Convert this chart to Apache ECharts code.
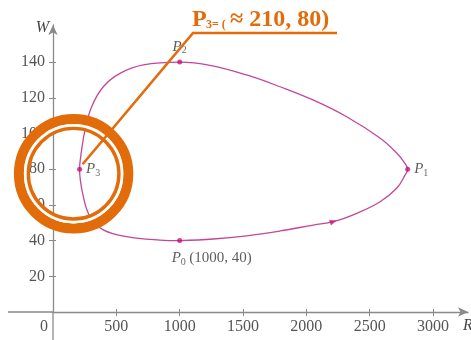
<!DOCTYPE html>
<html>
<head>
<meta charset="utf-8">
<script src="https://cdn.jsdelivr.net/npm/echarts@6/dist/echarts.min.js"></script>
<style>
html, body { margin: 0; padding: 0; background: #fff; }
#chart { width: 471px; height: 340px; }
</style>
</head>
<body>
<div id="chart"></div>
<script>
// 轨迹 (R, W)，从 P0 出发按时间顺序走一圈
var curveR = [1000, 1265, 1529, 1792, 2055, 2213, 2398, 2582, 2713, 2779, 2800, 2771, 2713, 2581, 2318, 2052, 1792, 1529, 1239, 1000, 713, 529, 397, 305, 253, 226, 210, 234, 292, 397, 581, 845, 1000];
var curveW = [40, 40.9, 42.7, 45.4, 48.7, 50.6, 55.3, 61.8, 69.3, 76.7, 80, 84, 89.1, 97.5, 109.4, 118.8, 126.2, 132.8, 138.2, 140, 138.4, 133.7, 126.2, 115, 102, 90.8, 80, 66.5, 53.4, 46, 42.2, 40.3, 40];

// 标注点
var pointNames = ['0', '1', '2', '3'];
var pointR = [1000, 2800, 1000, 210];
var pointW = [40, 80, 140, 80];

// 方向箭头
var arrowR = 2213;
var arrowW = 50.6;

// 刻度
var rTicks = [500, 1000, 1500, 2000, 2500, 3000];
var wTicks = [20, 40, 60, 80, 100, 120, 140];

var serif = 'Liberation Serif';
var orange = '#e36c0a';
var axisColor = '#8a8a8a';

var chart = echarts.init(document.getElementById('chart'));

var rich = {
  p: { fontFamily: serif, fontStyle: 'italic', fontSize: 15, color: '#333' },
  s: { fontFamily: serif, fontSize: 10, color: '#444', padding: [8, 0, 0, 0] },
  n: { fontFamily: serif, fontSize: 15, color: '#333' }
};

var labelCfg = [
  { position: 'bottom', align: 'left', distance: 6, offset: [-8, 0], formatter: '{p|P}{s|0} {n|(1000, 40)}' },
  { position: 'right', distance: 4, formatter: '{p|P}{s|1}' },
  { position: 'top', distance: 4, formatter: '{p|P}{s|2}' },
  { position: 'right', distance: 4, formatter: '{p|P}{s|3}' }
];

var pointData = pointR.map(function (r, i) {
  return {
    name: 'P' + pointNames[i],
    value: [r, pointW[i]],
    label: Object.assign({ show: true, rich: rich }, labelCfg[i])
  };
});

var curveData = curveR.map(function (r, i) { return [r, curveW[i]]; });

function plain(v) { return '' + v; }

// 内侧短刻度（让刻度线穿过坐标轴）
function innerAxis(max, ticks, pos) {
  return {
    type: 'value', min: 0, max: max, position: pos,
    splitLine: { show: false },
    axisLine: { show: false },
    axisLabel: { show: false },
    axisTick: { customValues: ticks, inside: true, length: 3, lineStyle: { color: axisColor } }
  };
}

chart.setOption({
  animation: false,
  grid: { left: 53, top: 25, right: 3, bottom: 28, containLabel: false },
  xAxis: [{
    type: 'value',
    min: 0,
    max: 3276,
    position: 'bottom',
    splitLine: { show: false },
    axisLine: { lineStyle: { color: axisColor, width: 1.3 }, symbol: ['none', 'arrow'], symbolSize: [7, 10] },
    axisTick: { customValues: rTicks, length: 4, lineStyle: { color: axisColor } },
    axisLabel: { customValues: rTicks, formatter: plain, margin: 7, fontFamily: serif, fontSize: 16, color: '#555' }
  }, innerAxis(3276, rTicks, 'bottom')],
  yAxis: [{
    type: 'value',
    min: 0,
    max: 160.8,
    position: 'left',
    splitLine: { show: false },
    axisLine: { lineStyle: { color: axisColor, width: 1.3 }, symbol: ['none', 'arrow'], symbolSize: [7, 10] },
    axisTick: { customValues: wTicks, length: 4, lineStyle: { color: axisColor } },
    axisLabel: { customValues: wTicks, formatter: plain, margin: 8, fontFamily: serif, fontSize: 16, color: '#555' }
  }, innerAxis(160.8, wTicks, 'left')],
  series: [
    {
      type: 'line',
      data: curveData,
      smooth: 0.4,
      showSymbol: false,
      lineStyle: { color: '#c4469a', width: 1.3 },
      z: 2
    },
    {
      type: 'scatter',
      data: pointData,
      symbolSize: 5,
      itemStyle: { color: '#c8127a' },
      z: 3
    },
    {
      type: 'scatter',
      data: [[arrowR, arrowW]],
      symbol: 'triangle',
      symbolSize: [6, 7],
      symbolRotate: -72,
      itemStyle: { color: '#c8127a' },
      z: 3
    }
  ]
});

// 原点与坐标轴延长段
var o = chart.convertToPixel({ gridIndex: 0 }, [0, 0]);
// 橙色标注：圈出 P3 并引线到说明文字
var p3 = chart.convertToPixel({ gridIndex: 0 }, [pointR[3], pointW[3]]);
var cx = p3[0] - 6, cy = p3[1] + 4.5;

chart.setOption({
  graphic: [
    { type: 'line', shape: { x1: 8, y1: o[1], x2: o[0], y2: o[1] }, style: { stroke: axisColor, lineWidth: 1.3 } },
    { type: 'line', shape: { x1: o[0], y1: o[1], x2: o[0], y2: 340 }, style: { stroke: axisColor, lineWidth: 1.3 } },
    { type: 'text', x: o[0] - 4, y: 28, style: { text: 'W', font: 'italic 16px ' + serif, fill: '#444', align: 'right', verticalAlign: 'middle' } },
    { type: 'text', x: 463, y: o[1] + 14, style: { text: 'R', font: 'italic 16px ' + serif, fill: '#444', align: 'left', verticalAlign: 'middle' } },
    { type: 'text', x: o[0] - 9, y: o[1] + 15, style: { text: '0', font: '16px ' + serif, fill: '#555', align: 'center', verticalAlign: 'middle' } },
    { type: 'circle', shape: { cx: cx, cy: cy, r: 54.7 }, style: { fill: 'none', stroke: orange, lineWidth: 10 }, z: 10 },
    { type: 'circle', shape: { cx: cx, cy: cy, r: 48.2 }, style: { fill: 'none', stroke: '#fff', lineWidth: 3 }, z: 10 },
    { type: 'circle', shape: { cx: cx, cy: cy, r: 45.3 }, style: { fill: 'none', stroke: orange, lineWidth: 3.4 }, z: 10 },
    { type: 'polyline', shape: { points: [[p3[0] + 3, p3[1] - 5], [193, 33], [337, 33]] }, style: { fill: 'none', stroke: orange, lineWidth: 2.6 }, z: 10 },
    { type: 'text', x: 192, y: 19.5, style: { text: 'P', font: 'bold 24px ' + serif, fill: orange, align: 'left', verticalAlign: 'middle' }, z: 10 },
    { type: 'text', x: 206, y: 25, style: { text: '3= (', font: 'bold 12px ' + serif, fill: orange, align: 'left', verticalAlign: 'middle' }, z: 10 },
    { type: 'text', x: 230, y: 19.5, style: { text: '≈ 210, 80)', font: 'bold 24px ' + serif, fill: orange, align: 'left', verticalAlign: 'middle' }, z: 10 }
  ]
});
</script>
</body>
</html>
